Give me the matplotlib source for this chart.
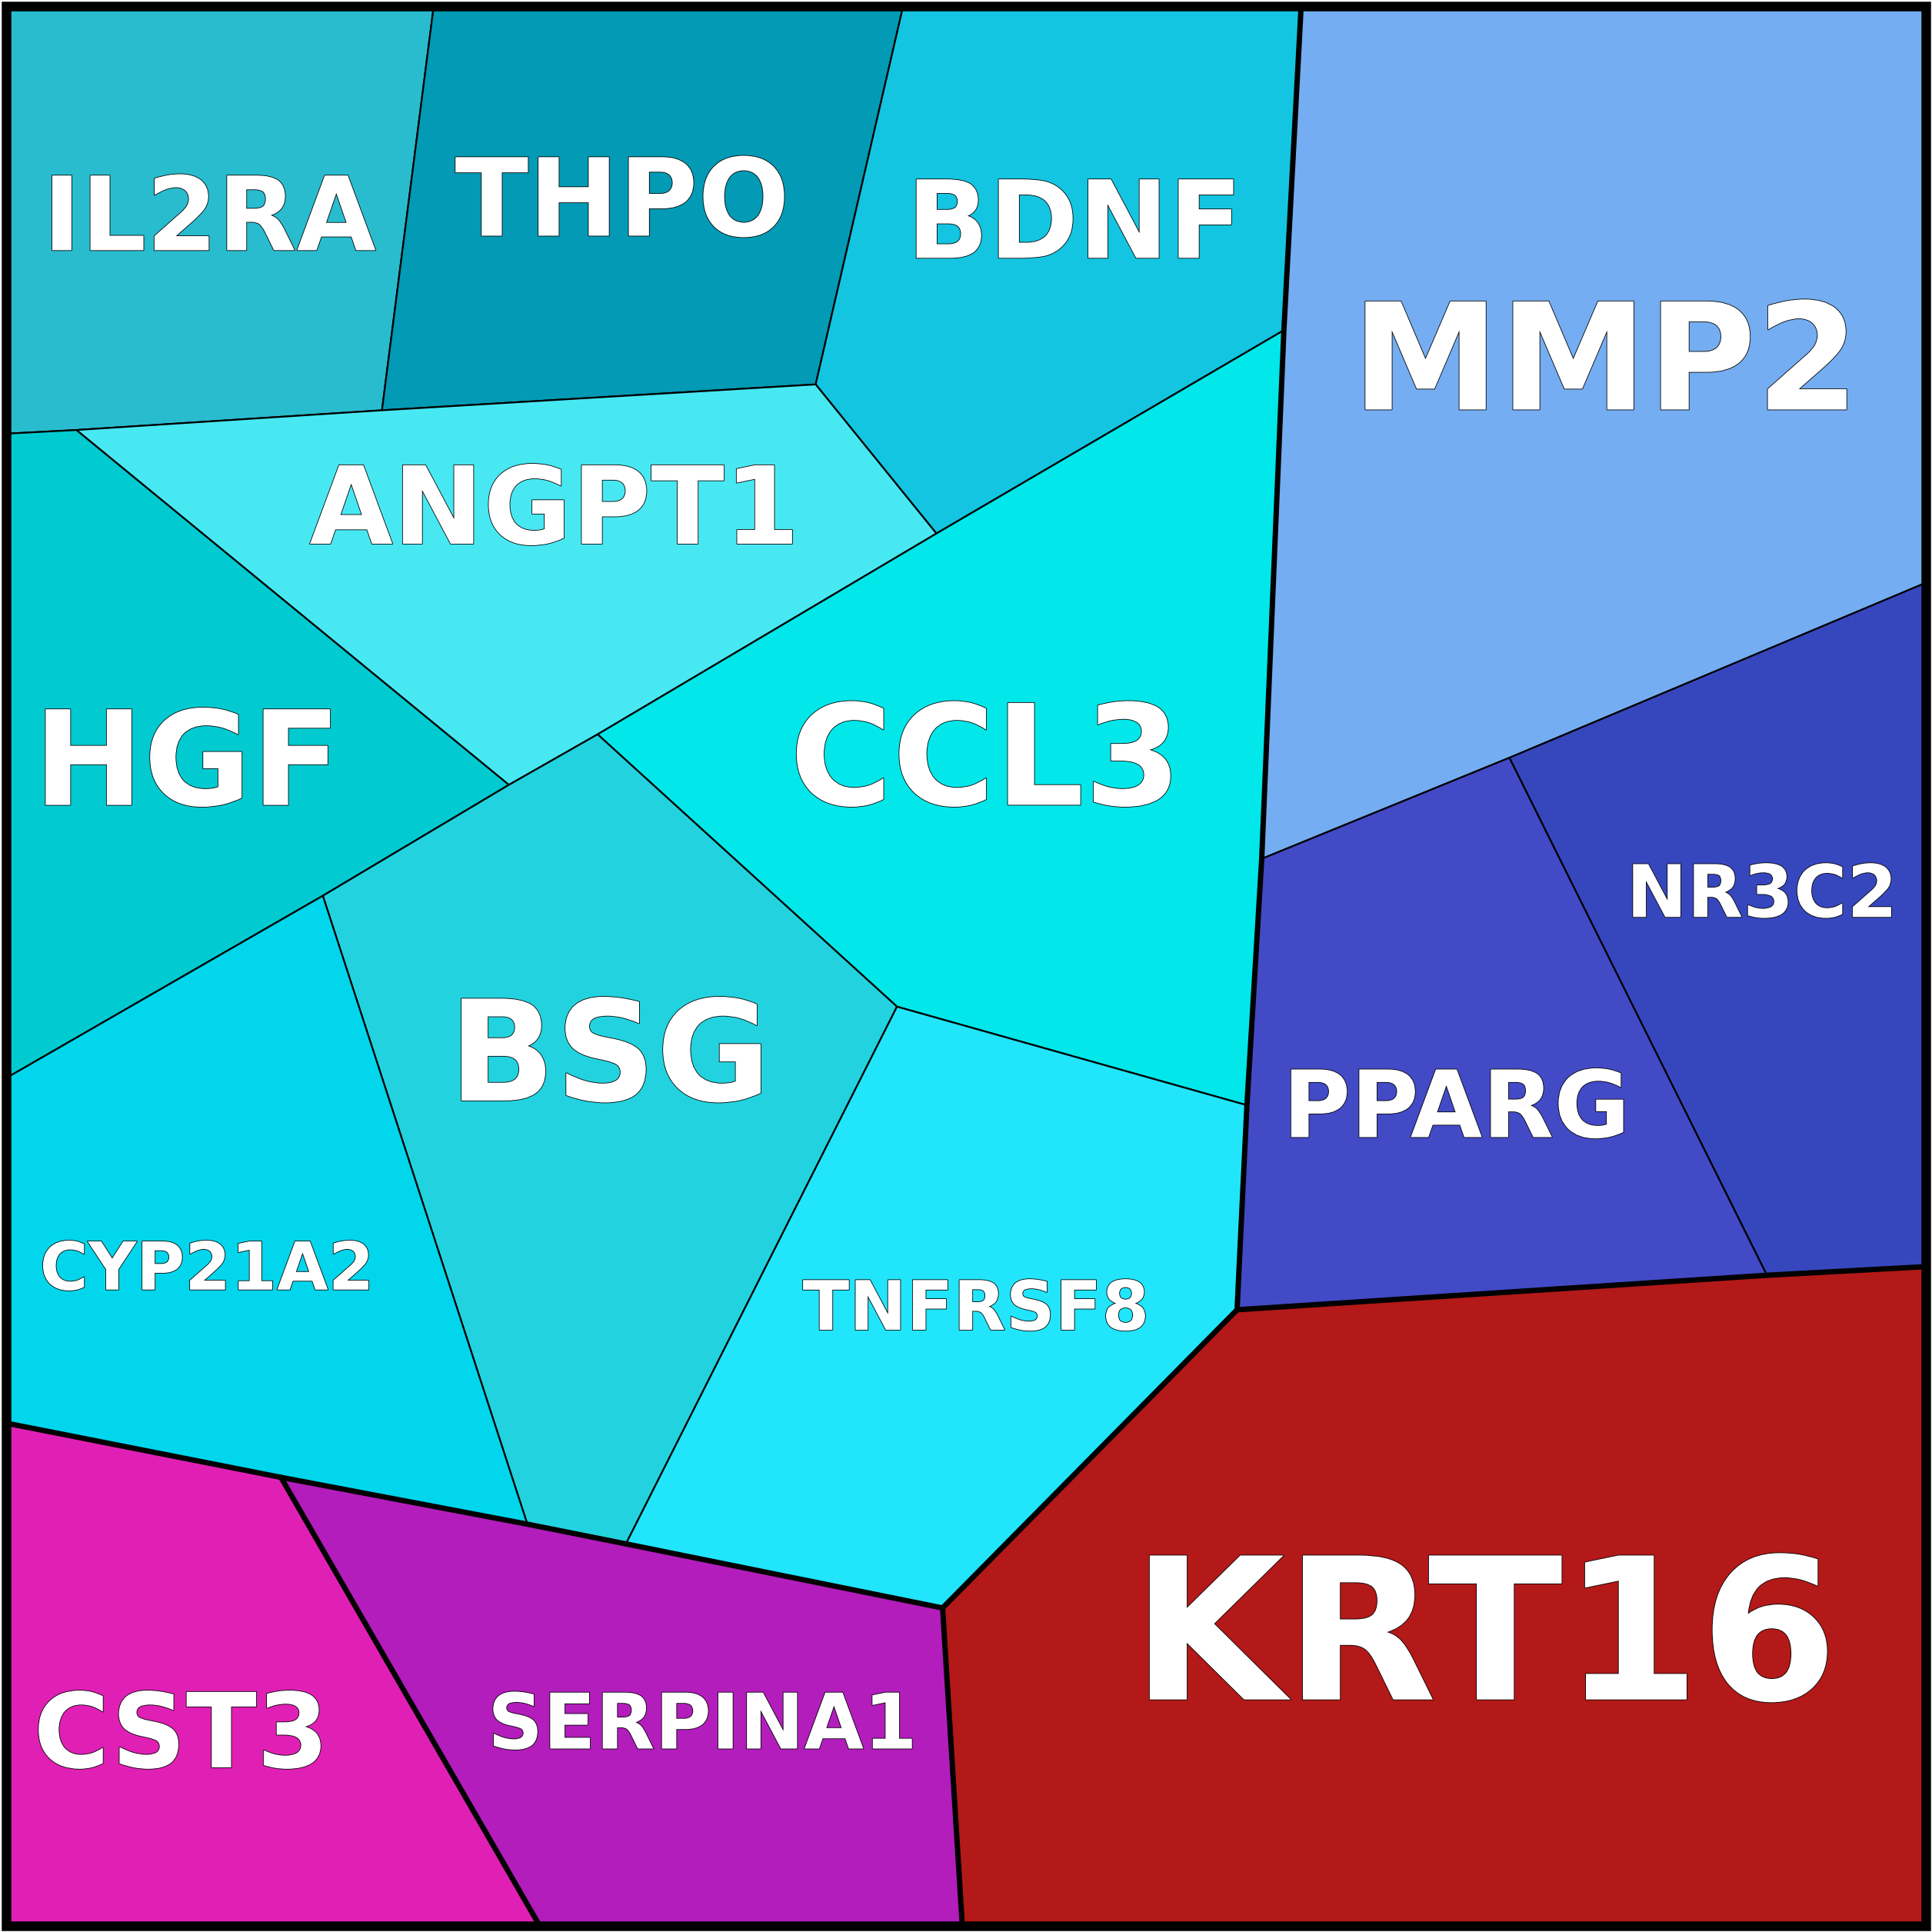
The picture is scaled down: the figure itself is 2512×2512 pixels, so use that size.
import matplotlib

matplotlib.use("Agg")
import matplotlib.pyplot as plt
import matplotlib.patheffects as pe
from matplotlib.patches import Polygon

# shared vertices of the voronoi treemap (reference pixel units, 0..1568, y down)
V = {
    "tl": (5, 5), "tr": (1563, 5), "br": (1563, 1563), "bl": (5, 1563),
    "A": (352, 5), "B": (310, 333), "C": (5, 352), "D": (62, 349),
    "E": (733, 5), "F": (662, 312), "G": (1056, 5), "H": (1042, 268),
    "I": (760, 433), "J": (413, 637), "K": (485, 596), "L": (262, 727),
    "M": (5, 875), "N": (728, 817), "O": (1012, 897), "P": (1024, 697),
    "Q": (1225, 615), "R": (1563, 473), "S": (1434, 1035), "T": (1563, 1028),
    "U": (1004, 1063), "W": (508, 1253), "X": (428, 1237), "Y": (228, 1199),
    "Z": (5, 1155), "AA": (438, 1563), "AB": (781, 1563), "VV": (765, 1305),
}

genes = ["IL2RA", "THPO", "BDNF", "ANGPT1", "HGF", "CCL3", "BSG", "CYP21A2",
         "TNFRSF8", "MMP2", "NR3C2", "PPARG", "KRT16", "SERPINA1", "CST3"]
cells = [
    ["tl", "A", "B", "D", "C"],
    ["A", "E", "F", "B"],
    ["E", "G", "H", "I", "F"],
    ["D", "B", "F", "I", "K", "J"],
    ["C", "D", "J", "L", "M"],
    ["H", "P", "O", "N", "K", "I"],
    ["K", "N", "W", "X", "L", "J"],
    ["M", "L", "X", "Y", "Z"],
    ["N", "O", "U", "VV", "W"],
    ["G", "tr", "R", "Q", "P", "H"],
    ["Q", "R", "T", "S"],
    ["P", "Q", "S", "U", "O"],
    ["U", "S", "T", "br", "AB", "VV"],
    ["Y", "X", "W", "VV", "AB", "AA"],
    ["Z", "Y", "AA", "bl"],
]
colors = ["#29BCCE", "#029AB4", "#13C5E0", "#48E8F3", "#01CBD1", "#01E7EA",
          "#22D3DF", "#01D6EC", "#21E5FB", "#74ADF1", "#3647BE", "#434AC6",
          "#B21918", "#B21DBC", "#E020B5"]
label_xy = [(170, 180), (505, 167), (872, 185), (450, 417), (152, 624),
            (800, 622), (495, 862), (168, 1032), (792, 1064), (1303, 299),
            (1430, 728), (1182, 902), (1205, 1335), (570, 1402), (147, 1411)]
label_size = [96, 101, 101, 101, 123, 131, 131, 62, 64, 139, 68, 87, 185, 72, 97]

# boundaries between the top-level groups
group_edges = [["G", "H", "P", "O", "U", "VV"], ["U", "S", "T"],
               ["Z", "Y", "X", "W", "VV", "AB"], ["Y", "AA"]]

fig = plt.figure(figsize=(25.12, 25.12), dpi=100)
ax = fig.add_axes([0, 0, 1, 1])
ax.set_xlim(0, 1568)
ax.set_ylim(1568, 0)
ax.axis("off")

for gene, cell, color, xy, size in zip(genes, cells, colors, label_xy, label_size):
    ax.add_patch(Polygon([V[k] for k in cell], closed=True, facecolor=color,
                         edgecolor="black", linewidth=1.6))
    txt = ax.text(*xy, gene, ha="center", va="center", color="white",
                  fontsize=size, fontweight="bold", family="DejaVu Sans")
    txt.set_path_effects([pe.withStroke(linewidth=1.2, foreground="black")])

for edge in group_edges:
    xs, ys = zip(*[V[k] for k in edge])
    ax.plot(xs, ys, color="black", linewidth=5, solid_capstyle="round")

ax.add_patch(Polygon([V["tl"], V["tr"], V["br"], V["bl"]], closed=True,
                     fill=False, edgecolor="black", linewidth=9))

fig.savefig("out.png", dpi=100)
